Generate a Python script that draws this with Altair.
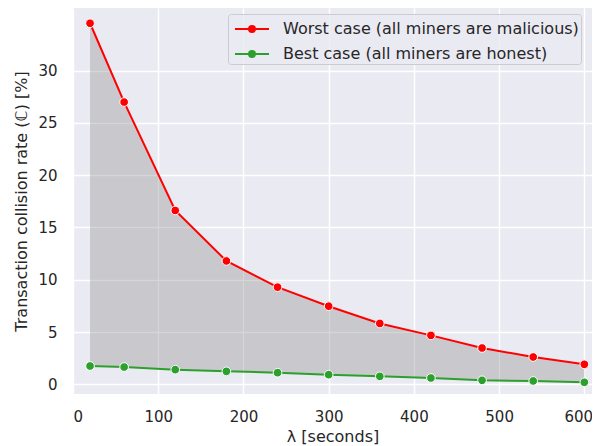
import altair as alt
import pandas as pd

lam = [20, 60, 120, 180, 240, 300, 360, 420, 480, 540, 600]
worst = [34.54, 27.0, 16.63, 11.8, 9.29, 7.47, 5.82, 4.68, 3.47, 2.61, 1.91]
best = [1.75, 1.65, 1.40, 1.24, 1.11, 0.92, 0.76, 0.60, 0.38, 0.32, 0.19]
series = ["Worst case (all miners are malicious)", "Best case (all miners are honest)"]
colors = ["#ff0000", "#2ca02c"]
x_ticks = [0, 100, 200, 300, 400, 500, 600]
y_ticks = [0, 5, 10, 15, 20, 25, 30]

wide = pd.DataFrame({"lam": lam, "worst": worst, "best": best})
long = pd.DataFrame({
    "lam": lam + lam,
    "rate": worst + best,
    "series": [series[0]] * len(lam) + [series[1]] * len(lam),
})

FONT = "DejaVu Sans"
TXT = "#262626"

xs = alt.Scale(domain=[0, 609], nice=False, zero=False)
ys = alt.Scale(domain=[-0.93, 36], nice=False, zero=False)

xaxis = alt.Axis(values=x_ticks, title="λ [seconds]", labelPadding=15, titlePadding=4,
                 labelOffset={"condition": {"test": "datum.value === 600", "value": -6},
                              "value": 0})
yaxis = alt.Axis(values=y_ticks, title="Transaction collision rate (ℂ) [%]",
                 labelPadding=16, titlePadding=8)

sym_path = ("M-0.667,0H2.167"
            "M1,0A0.25,0.25,0,1,1,0.5,0A0.25,0.25,0,1,1,1,0"
            "M0.875,0A0.125,0.125,0,1,1,0.625,0A0.125,0.125,0,1,1,0.875,0")

cscale = alt.Scale(domain=series, range=colors)

area = alt.Chart(wide).mark_area(color="#808080", opacity=0.32).encode(
    x=alt.X("lam:Q", scale=xs, axis=xaxis),
    y=alt.Y("worst:Q", scale=ys, axis=yaxis),
    y2="best:Q",
)

lines = alt.Chart(long).mark_line(strokeWidth=2).encode(
    x=alt.X("lam:Q", scale=xs),
    y=alt.Y("rate:Q", scale=ys),
    color=alt.Color("series:N", scale=cscale, sort=series, legend=alt.Legend(
        title=None, orient="none", legendX=155, legendY=6,
        symbolType=sym_path, symbolSize=576, symbolStrokeWidth=2,
        labelFontSize=16, labelFont=FONT, labelColor=TXT, labelOffset=27,
        labelLimit=500, padding=2, rowPadding=4,
        fillColor="rgba(234,234,242,0.8)", strokeColor="#cccccc", cornerRadius=3,
    )),
    detail="series:N",
)

points = alt.Chart(long).mark_point(filled=True, size=75, stroke="white",
                                    strokeWidth=1, opacity=1).encode(
    x=alt.X("lam:Q", scale=xs),
    y=alt.Y("rate:Q", scale=ys),
    fill=alt.Fill("series:N", scale=cscale, legend=None),
)

chart = alt.layer(area, lines, points).properties(
    width=519, height=386,
    autosize=alt.AutoSizeParams(type="none"),
    padding={"left": 65, "top": 0, "right": 0, "bottom": 52},
).configure(
    background="white", font=FONT,
).configure_view(
    fill="#EAEAF2", stroke=None,
).configure_axis(
    domain=False, ticks=False, grid=True, gridColor="white", gridWidth=1.4,
    labelFont=FONT, labelFontSize=15, labelColor=TXT,
    titleFont=FONT, titleFontSize=16, titleColor=TXT, titleFontWeight="normal",
)

chart.save("out.html", embed_options={"renderer": "svg", "actions": False})
